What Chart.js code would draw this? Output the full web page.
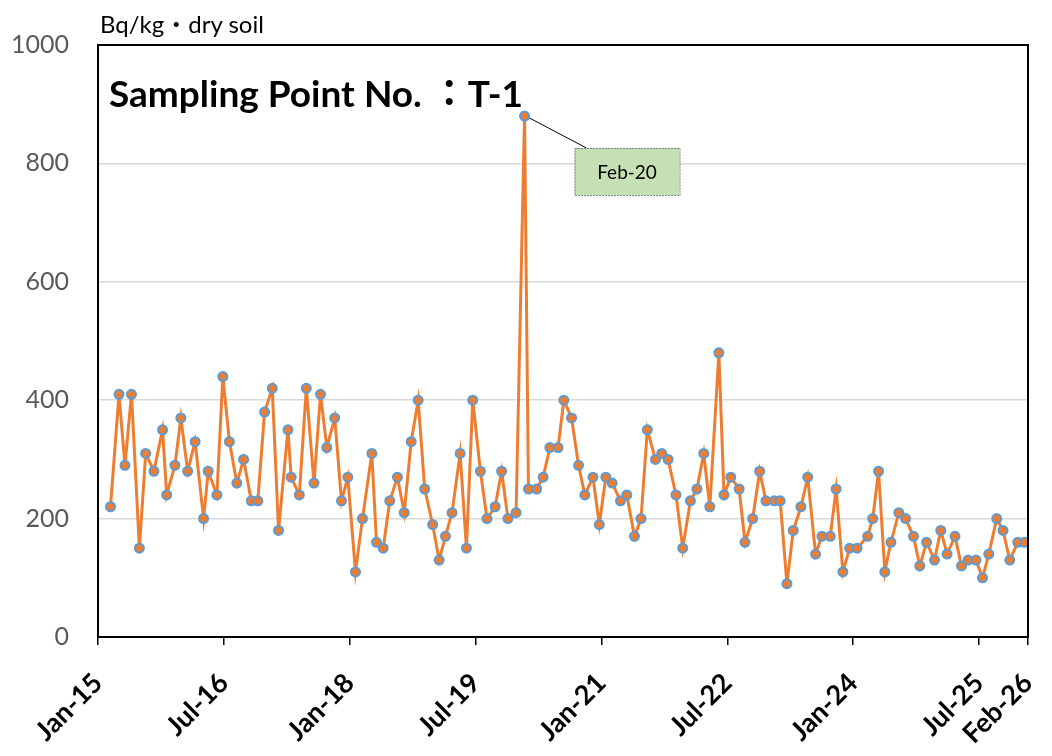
<!DOCTYPE html>
<html>
<head>
<meta charset="utf-8">
<script src="https://cdn.jsdelivr.net/npm/chart.js@4.4.1/dist/chart.umd.min.js"></script>
<style>
  html, body { margin: 0; padding: 0; background: #fff; }
  #wrap { position: relative; width: 1052px; height: 756px; }
  #unit {
    position: absolute; left: 100px; top: 5px;
    font: 24px Lato, "Noto Sans CJK JP", sans-serif; color: #000;
  }
  #title {
    position: absolute; left: 109px; top: 64px;
    font: bold 37px Lato, "Noto Sans CJK JP", sans-serif; color: #000;
  }
</style>
</head>
<body>
<div id="wrap">
  <canvas id="chart" width="1052" height="756"></canvas>
  <div id="unit">Bq/kg・dry soil</div>
  <div id="title">Sampling Point No. ：T-1</div>
</div>
<script>
// sampling dates and values, Bq/kg dry soil
const sampleDates = [
  '2015-02-25','2015-04-01','2015-04-27','2015-05-25','2015-06-29','2015-07-26','2015-09-01','2015-10-08','2015-10-26','2015-12-01','2015-12-27',
  '2016-01-26','2016-02-28','2016-04-04','2016-04-24','2016-06-01','2016-06-27','2016-07-25','2016-08-27','2016-09-26','2016-10-29','2016-11-27','2016-12-26',
  '2017-01-29','2017-02-26','2017-04-06','2017-04-20','2017-05-25','2017-06-25','2017-07-28','2017-08-26','2017-09-23','2017-10-27','2017-11-26','2017-12-23',
  '2018-01-26','2018-02-26','2018-04-06','2018-04-26','2018-05-25','2018-06-23','2018-07-26','2018-08-25','2018-09-25','2018-10-25','2018-11-23','2018-12-27',
  '2019-01-25','2019-02-22','2019-03-20','2019-04-25','2019-05-22','2019-06-19','2019-07-22','2019-08-20','2019-09-25','2019-10-23','2019-11-20','2019-12-25',
  '2020-02-01','2020-02-18','2020-03-23','2020-04-21','2020-05-20','2020-06-25','2020-07-20','2020-08-23','2020-09-23','2020-10-20','2020-11-25','2020-12-22',
  '2021-01-20','2021-02-17','2021-03-23','2021-04-20','2021-05-23','2021-06-21','2021-07-18','2021-08-23','2021-09-20','2021-10-17','2021-11-21','2021-12-20',
  '2022-01-23','2022-02-21','2022-03-20','2022-04-16','2022-05-25','2022-06-17','2022-07-16','2022-08-22','2022-09-17','2022-10-20','2022-11-20','2022-12-17',
  '2023-01-23','2023-02-18','2023-03-17','2023-04-14','2023-05-17','2023-06-16','2023-07-20','2023-08-17','2023-09-23','2023-10-18','2023-11-17','2023-12-16',
  '2024-01-18','2024-03-03','2024-03-25','2024-04-20','2024-05-17','2024-06-13','2024-07-17','2024-08-16','2024-09-20','2024-10-17','2024-11-16','2024-12-20',
  '2025-01-17','2025-02-14','2025-03-18','2025-04-16','2025-05-14','2025-06-18','2025-07-16','2025-08-13','2025-09-17','2025-10-14','2025-11-13','2025-12-17',
  '2026-01-16'
];

const cs137 = [
  220,410,290,410,150,310,280,350,240,290,370,
  280,330,200,280,240,440,330,260,300,230,230,380,
  420,180,350,270,240,420,260,410,320,370,230,270,
  110,200,310,160,150,230,270,210,330,400,250,190,
  130,170,210,310,150,400,280,200,220,280,200,210,
  880,250,250,270,320,320,400,370,290,240,270,190,
  270,260,230,240,170,200,350,300,310,300,240,150,
  230,250,310,220,480,240,270,250,160,200,280,230,
  230,230,90,180,220,270,140,170,170,250,110,150,
  150,170,200,280,110,160,210,200,170,120,160,130,
  180,140,170,120,130,130,100,140,200,180,130,160,
  160
];

const xTickLabels = ['Jan-15','Jul-16','Jan-18','Jul-19','Jan-21','Jul-22','Jan-24','Jul-25','Feb-26'];
const yTicks = [0, 200, 400, 600, 800, 1000];
const peakLabel = 'Feb-20';

const MONTHS = ['Jan','Feb','Mar','Apr','May','Jun','Jul','Aug','Sep','Oct','Nov','Dec'];

// months since Jan 2015
function monthIndex(dateStr) {
    const [y, m, d] = dateStr.split('-').map(Number);
    return (y - 2015) * 12 + (m - 1) + (d - 1) / 30.4;
}
function labelMonth(lbl) {
    const [mon, yy] = lbl.split('-');
    return (2000 + Number(yy) - 2015) * 12 + MONTHS.indexOf(mon);
}
const xTickValues = xTickLabels.map(labelMonth);

const points = sampleDates.map((d, i) => ({ x: monthIndex(d), y: cs137[i] }));

// outer frame + peak callout
const framePlugin = {
    id: 'frame',
    afterDatasetsDraw(chart) {
        const ctx = chart.ctx;
        const a = chart.chartArea;
        ctx.save();
        ctx.strokeStyle = '#000';
        ctx.lineWidth = 2;
        ctx.strokeRect(a.left, a.top, a.right - a.left, a.bottom - a.top);

        // callout for the highest value
        const peakIdx = cs137.indexOf(Math.max(...cs137));
        const el = chart.getDatasetMeta(0).data[peakIdx];
        const bx = el.x + 50, by = el.y + 32, bw = 105, bh = 47;
        ctx.strokeStyle = '#000';
        ctx.lineWidth = 1;
        ctx.beginPath();
        ctx.moveTo(el.x + 5, el.y + 2);
        ctx.lineTo(bx + 12, by);
        ctx.stroke();
        ctx.fillStyle = '#c5e0b4';
        ctx.fillRect(bx, by, bw, bh);
        ctx.setLineDash([2, 1]);
        ctx.strokeStyle = '#7f7f7f';
        ctx.strokeRect(bx + 0.5, by + 0.5, bw, bh);
        ctx.setLineDash([]);
        ctx.fillStyle = '#000';
        ctx.font = '19px Lato, sans-serif';
        ctx.textAlign = 'center';
        ctx.textBaseline = 'middle';
        ctx.fillText(peakLabel, bx + bw / 2, by + bh / 2 + 1);
        ctx.restore();
    }
};

new Chart(document.getElementById('chart'), {
    type: 'line',
    data: {
        datasets: [{
            label: 'T-1',
            data: points,
            borderColor: '#ed7d31',
            borderWidth: 3,
            backgroundColor: '#ed7d31',
            pointBackgroundColor: '#ed7d31',
            pointBorderColor: '#5b9bd5',
            pointBorderWidth: 2,
            pointRadius: 4.5,
            tension: 0
        }]
    },
    options: {
        responsive: false,
        animation: false,
        layout: { padding: { top: 45, right: 24, left: 0, bottom: 0 } },
        plugins: {
            legend: { display: false },
            tooltip: { enabled: false }
        },
        scales: {
            x: {
                type: 'linear',
                min: 0,
                max: xTickValues[xTickValues.length - 1],
                afterBuildTicks: axis => { axis.ticks = xTickValues.map(v => ({ value: v })); },
                afterFit: axis => {
                    axis.height = 119;
                    axis.paddingLeft = 0;
                    axis.paddingRight = 0;
                },
                ticks: {
                    autoSkip: false,
                    maxRotation: 45,
                    minRotation: 45,
                    padding: 22,
                    color: '#000',
                    font: { family: 'Lato', size: 27, weight: 'bold' },
                    callback: v => xTickLabels[xTickValues.indexOf(v)]
                },
                grid: {
                    drawOnChartArea: false,
                    drawTicks: true,
                    tickLength: 8,
                    color: '#000',
                    lineWidth: 1.5
                },
                border: { color: '#000', width: 2 }
            },
            y: {
                min: 0,
                max: 1000,
                afterBuildTicks: axis => { axis.ticks = yTicks.map(v => ({ value: v })); },
                afterFit: axis => { axis.width = 98; },
                ticks: {
                    padding: 29,
                    color: '#595959',
                    font: { family: 'Lato', size: 25 },
                    callback: v => String(v)
                },
                grid: {
                    color: '#d9d9d9',
                    lineWidth: 1.5,
                    drawTicks: false
                },
                border: { color: '#000', width: 2 }
            }
        }
    },
    plugins: [framePlugin]
});
</script>
</body>
</html>
